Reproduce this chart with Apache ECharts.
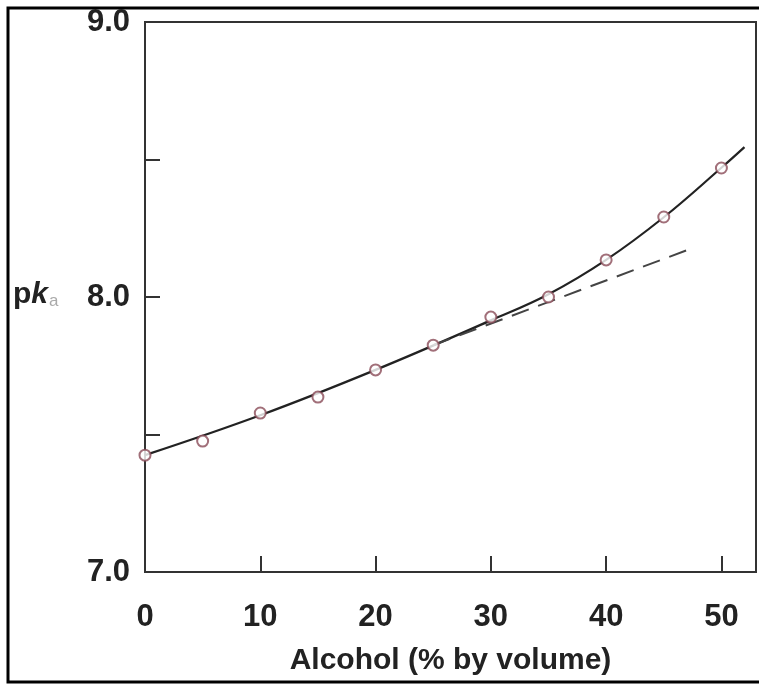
<!DOCTYPE html>
<html>
<head>
<meta charset="utf-8">
<script src="https://cdn.jsdelivr.net/npm/echarts@6/dist/echarts.min.js"></script>
<style>html,body{margin:0;padding:0;background:#fff;}#c{width:759px;height:684px;}</style>
</head>
<body>
<div id="c"></div>
<script>
// Measured points (alcohol % by volume vs pKa)
var alcohol = [0, 5, 10, 15, 20, 25, 30, 35, 40, 45, 50];
var pka = [7.425, 7.476, 7.578, 7.636, 7.735, 7.825, 7.927, 8.0, 8.135, 8.291, 8.469];
// Smooth fitted curve, extends slightly past the last point
var curveX = [0, 10, 20, 30, 35, 40, 45, 50, 52];
var curveY = [7.425, 7.57, 7.735, 7.915, 8.01, 8.135, 8.29, 8.47, 8.545];
// Dashed linear extrapolation
var dashX = [25, 47];
var dashY = [7.825, 8.17];
var xTicks = [0, 10, 20, 30, 40, 50];
var yTicks = [7.0, 8.0, 9.0];

function zip(a, b) { return a.map(function (v, i) { return [v, b[i]]; }); }

var chart = echarts.init(document.getElementById('c'));
var font = 'Liberation Sans, Arial, sans-serif';
chart.setOption({
  backgroundColor: '#fff',
  animation: false,
  grid: { left: 145, top: 22, right: 3, bottom: 112, show: true, borderColor: '#333', borderWidth: 2, outerBoundsMode: 'none', containLabel: false },
  xAxis: {
    type: 'value', min: 0, max: 53, interval: 10,
    name: 'Alcohol (% by volume)', nameLocation: 'middle', nameGap: 74,
    nameTextStyle: { fontFamily: font, fontWeight: 'bold', fontSize: 30, color: '#222' },
    axisLine: { lineStyle: { color: '#333', width: 2 } },
    axisTick: { inside: true, length: 16, lineStyle: { color: '#333', width: 2 },
      customValues: xTicks },
    axisLabel: { margin: 30, fontFamily: font, fontWeight: 'bold', fontSize: 31, color: '#222',
      customValues: xTicks,
      formatter: function (v) { return xTicks.indexOf(v) >= 0 ? String(v) : ''; } },
    splitLine: { show: false }
  },
  yAxis: {
    type: 'value', min: 7, max: 9, interval: 0.5,
    axisLine: { lineStyle: { color: '#333', width: 2 } },
    axisTick: { inside: true, length: 15, lineStyle: { color: '#333', width: 2 } },
    axisLabel: { margin: 15, fontFamily: font, fontWeight: 'bold', fontSize: 31, color: '#222',
      formatter: function (v) {
        for (var i = 0; i < yTicks.length; i++) if (Math.abs(yTicks[i] - v) < 1e-9) return v.toFixed(1);
        return '';
      } },
    splitLine: { show: false }
  },
  graphic: [
    { type: 'rect', shape: { x: 8, y: 8, width: 790, height: 674 }, style: { fill: 'none', stroke: '#000', lineWidth: 3 }, silent: true },
    { type: 'text', left: 13, top: 280, style: {
        text: '{p|p}{k|k}{a|a}', rich: {
          p: { fontFamily: font, fontWeight: 'bold', fontSize: 30, fill: '#222' },
          k: { fontFamily: font, fontWeight: 'bold', fontStyle: 'italic', fontSize: 30, fill: '#222' },
          a: { fontFamily: font, fontSize: 17, fill: '#aaa', padding: [12, 0, 0, 1] }
        } } }
  ],
  series: [
    { type: 'line', data: zip(curveX, curveY), smooth: 0.4, symbol: 'none',
      lineStyle: { color: '#222', width: 2.2 }, z: 2 },
    { type: 'line', data: zip(dashX, dashY), symbol: 'none',
      lineStyle: { color: '#444', width: 2, type: [18, 10] }, z: 2 },
    { type: 'scatter', data: zip(alcohol, pka), symbol: 'circle', symbolSize: 11,
      itemStyle: { color: '#fff', borderColor: '#8a4b57', borderWidth: 2 }, z: 3 }
  ]
});
</script>
</body>
</html>
